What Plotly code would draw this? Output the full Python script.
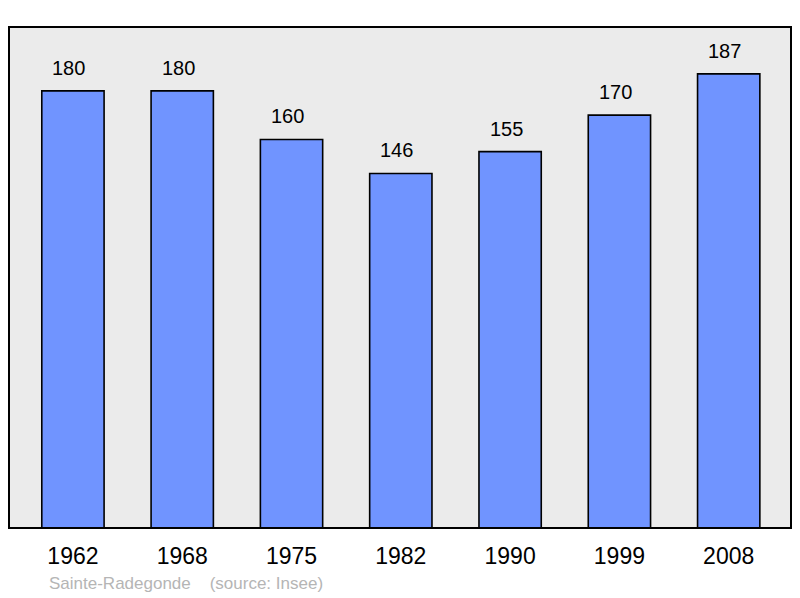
import plotly.graph_objects as go

# population per census year
years = ["1962", "1968", "1975", "1982", "1990", "1999", "2008"]
population = [180, 180, 160, 146, 155, 170, 187]
commune = "Sainte-Radegonde"
source = "(source: Insee)"

fig = go.Figure()
fig.add_trace(go.Bar(
    x=years, y=population,
    width=0.57,
    marker=dict(color="#7094ff", line=dict(color="#000000", width=1.6)),
    hoverinfo="x+y",
))

# value labels above bars (category index, numeric-looking names confuse annotations)
for i, v in enumerate(population):
    fig.add_annotation(x=i, y=v, text=str(v), showarrow=False,
                       yanchor="bottom", yshift=10, xshift=-4,
                       font=dict(size=20, color="#000000"))

fig.add_annotation(xref="paper", yref="paper", x=0.049, y=-0.11,
                   xanchor="left", yanchor="middle", showarrow=False,
                   text=f"{commune}&nbsp;&nbsp;&nbsp;&nbsp;{source}",
                   font=dict(size=17, color="#b5b5b5"))

# frame around the plot area
fig.add_shape(type="rect", xref="paper", yref="paper", x0=0, y0=0, x1=1, y1=1,
              line=dict(color="#000000", width=2), layer="above")

fig.update_layout(
    width=800, height=598,
    margin=dict(l=9, r=9, t=27, b=70),
    paper_bgcolor="#ffffff", plot_bgcolor="#ebebeb",
    font=dict(family="Liberation Sans, Arial, sans-serif"),
    showlegend=False,
    xaxis=dict(type="category", range=[-0.585, 6.57], showgrid=False, ticks="",
               tickfont=dict(size=23, color="#000000"), ticklabelstandoff=12),
    yaxis=dict(range=[0, 206.3], showgrid=False, showticklabels=False,
               zeroline=False),
    bargap=0.43,
)

fig.write_html("out.html", config={"displayModeBar": False},
               post_script="document.body.style.margin='0';")
